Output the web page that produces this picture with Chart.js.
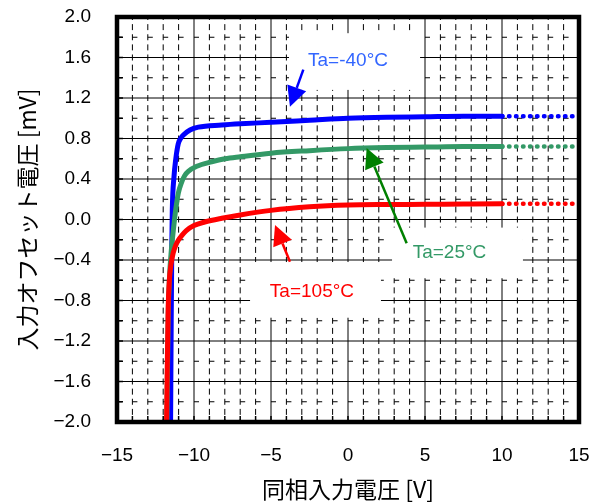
<!DOCTYPE html>
<html>
<head>
<meta charset="utf-8">
<script src="https://cdn.jsdelivr.net/npm/chart.js@4/dist/chart.umd.min.js"></script>
<style>
  html, body { margin: 0; padding: 0; background: #fff; }
</style>
</head>
<body>
<canvas id="chart" width="601" height="503"></canvas>
<script>
// 同相入力電圧 [V] と 入力オフセット電圧 [mV]
const vcmM40 = [-11.52, -11.48, -11.44, -11.41, -11.3, -11.19, -11.02, -10.85, -10.69, -10.26, -9.72, -8.2, -7.0, -5.0, -2.5, 0, 2.5, 5, 7.5, 10, 11, 12, 13, 14, 15];
const vosM40 = [-2.0, -1.0, -0.25, 0.09, 0.42, 0.59, 0.75, 0.805, 0.835, 0.884, 0.912, 0.933, 0.945, 0.96, 0.98, 1.0, 1.01, 1.015, 1.02, 1.02, 1.02, 1.02, 1.02, 1.02, 1.02];

const vcm25 = [-11.76, -11.68, -11.6, -11.47, -11.3, -11.19, -11.02, -10.8, -10.6, -10.37, -9.82, -8.85, -7.99, -7.0, -5.0, -2.5, 0, 2.5, 5, 7.5, 10, 11, 12, 13, 14, 15];
const vos25 = [-2.0, -1.0, -0.6, -0.3, -0.05, 0.094, 0.26, 0.37, 0.435, 0.475, 0.525, 0.57, 0.6, 0.62, 0.655, 0.68, 0.70, 0.71, 0.715, 0.72, 0.72, 0.72, 0.72, 0.72, 0.72, 0.72];

const vcm105 = [-11.78, -11.74, -11.68, -11.6, -11.5, -11.35, -11.2, -11.0, -10.8, -10.5, -10.0, -9.3, -8.2, -7.0, -5.0, -2.5, 0, 2.5, 5, 7.5, 10, 11, 12, 13, 14, 15];
const vos105 = [-2.0, -1.5, -0.9, -0.6, -0.45, -0.33, -0.26, -0.2, -0.16, -0.11, -0.06, -0.025, 0.012, 0.045, 0.09, 0.125, 0.143, 0.148, 0.15, 0.153, 0.155, 0.155, 0.155, 0.155, 0.155, 0.155];

const seriesNames = ['Ta=-40°C', 'Ta=25°C', 'Ta=105°C'];
const xTicks = [-15, -10, -5, 0, 5, 10, 15];
const yTicks = [-2.0, -1.6, -1.2, -0.8, -0.4, 0.0, 0.4, 0.8, 1.2, 1.6, 2.0];

// 注記（データ座標）
const notes = [
  { text: seriesNames[0], color: '#3366ff', arrow: '#0000ff', tx: 0, ty: 1.57,
    box: [-3.83, 1.84, 4.68, 1.28], from: [-2.9, 1.48], to: [-3.77, 1.114] },
  { text: seriesNames[1], color: '#339966', arrow: '#008000', tx: 6.59, ty: -0.33,
    box: [2.86, -0.08, 11.36, -0.58], from: [3.81, -0.235], to: [1.21, 0.706] },
  { text: seriesNames[2], color: '#ff0000', arrow: '#ff0000', tx: -2.34, ty: -0.71,
    box: [-6.36, -0.42, 2.14, -0.97], from: [-3.77, -0.417], to: [-4.74, -0.054] }
];

const zip = (xs, ys) => xs.map((x, i) => ({ x: x, y: ys[i] }));
const minus = v => (v < -1e-9 ? '\u2212' : '') + Math.abs(v);

const dotted = {
  borderDash: ctx => ctx.p0.parsed.x >= 10 ? [0.5, 6.5] : undefined,
  borderWidth: ctx => ctx.p0.parsed.x >= 10 ? 4.5 : undefined
};

// グリッド・白抜き
const gridPlugin = {
  id: 'gridPlugin',
  beforeDatasetsDraw(chart) {
    const { ctx, chartArea: a, scales: { x, y } } = chart;
    const unit = x.getPixelForValue(1) - x.getPixelForValue(0);
    const step = y.getPixelForValue(0) - y.getPixelForValue(0.2);
    ctx.save();
    ctx.strokeStyle = '#000';
    ctx.lineWidth = 1;
    for (let i = 1; i < 20; i++) {
      const py = y.getPixelForValue(-2 + i * 0.2);
      ctx.setLineDash(i % 2 ? [5, unit - 5] : []);
      ctx.beginPath();
      ctx.moveTo(a.left, py);
      ctx.lineTo(a.right, py);
      ctx.stroke();
    }
    for (let i = 1; i < 30; i++) {
      const px = x.getPixelForValue(-15 + i);
      ctx.setLineDash(i % 5 ? [6, step / 2 - 6] : []);
      ctx.lineDashOffset = 3;
      ctx.beginPath();
      ctx.moveTo(px, a.top);
      ctx.lineTo(px, a.bottom);
      ctx.stroke();
      ctx.lineDashOffset = 0;
    }
    ctx.setLineDash([]);
    ctx.fillStyle = '#fff';
    notes.forEach(n => {
      const x0 = x.getPixelForValue(n.box[0]), y0 = y.getPixelForValue(n.box[1]);
      const x1 = x.getPixelForValue(n.box[2]), y1 = y.getPixelForValue(n.box[3]);
      ctx.fillRect(x0, y0, x1 - x0, y1 - y0);
    });
    ctx.restore();
  },
  afterDatasetsDraw(chart) {
    const { ctx, chartArea: a, scales: { x, y } } = chart;
    ctx.save();
    // 内向き目盛
    ctx.strokeStyle = '#000';
    ctx.lineWidth = 1.5;
    for (let i = 1; i < 20; i++) {
      const py = y.getPixelForValue(-2 + i * 0.2);
      ctx.beginPath();
      ctx.moveTo(a.left, py);
      ctx.lineTo(a.left + 6, py);
      ctx.stroke();
    }
    for (let i = 1; i < 30; i++) {
      const px = x.getPixelForValue(-15 + i);
      ctx.beginPath();
      ctx.moveTo(px, a.bottom);
      ctx.lineTo(px, a.bottom - 6);
      ctx.stroke();
    }
    ctx.lineWidth = 4.5;
    ctx.strokeRect(a.left, a.top, a.right - a.left, a.bottom - a.top);

    // 矢印と文字
    notes.forEach(n => {
      const x0 = x.getPixelForValue(n.from[0]), y0 = y.getPixelForValue(n.from[1]);
      const x1 = x.getPixelForValue(n.to[0]), y1 = y.getPixelForValue(n.to[1]);
      const ang = Math.atan2(y1 - y0, x1 - x0);
      const c = Math.cos(ang), s = Math.sin(ang);
      const L = 20, W = 10;
      ctx.strokeStyle = n.arrow;
      ctx.fillStyle = n.arrow;
      ctx.lineWidth = 2.5;
      ctx.beginPath();
      ctx.moveTo(x0, y0);
      ctx.lineTo(x1 - L * c, y1 - L * s);
      ctx.stroke();
      ctx.beginPath();
      ctx.moveTo(x1, y1);
      ctx.lineTo(x1 - L * c + W * s, y1 - L * s - W * c);
      ctx.lineTo(x1 - L * c - W * s, y1 - L * s + W * c);
      ctx.closePath();
      ctx.fill();

      ctx.font = '19px "Liberation Sans", Arial, sans-serif';
      ctx.textAlign = 'center';
      ctx.textBaseline = 'middle';
      ctx.fillStyle = n.color;
      ctx.fillText(n.text, x.getPixelForValue(n.tx), y.getPixelForValue(n.ty));
    });
    ctx.restore();
  }
};

const tickFont = { family: '"Liberation Sans", Arial, sans-serif', size: 19 };
const titleFont = { family: '"Noto Sans CJK JP", sans-serif', size: 23 };

new Chart(document.getElementById('chart'), {
  type: 'scatter',
  data: {
    datasets: [
      { label: seriesNames[0], data: zip(vcmM40, vosM40), borderColor: '#0000ff', order: 3, showLine: true, segment: dotted },
      { label: seriesNames[1], data: zip(vcm25, vos25), borderColor: '#339966', order: 2, showLine: true, segment: dotted },
      { label: seriesNames[2], data: zip(vcm105, vos105), borderColor: '#ff0000', order: 1, showLine: true, segment: dotted }
    ]
  },
  options: {
    responsive: false,
    animation: false,
    layout: { padding: { top: 17, right: 22, left: 0, bottom: 0 } },
    plugins: { legend: { display: false }, tooltip: { enabled: false } },
    elements: {
      point: { radius: 0 },
      line: { borderWidth: 5, borderCapStyle: 'round', borderJoinStyle: 'round', cubicInterpolationMode: 'monotone' }
    },
    scales: {
      x: {
        type: 'linear', min: -15, max: 15,
        afterBuildTicks: s => { s.ticks = xTicks.map(v => ({ value: v })); },
        afterFit: s => { s.height = 81; s.paddingLeft = 0; s.paddingRight = 0; },
        ticks: { font: tickFont, color: '#000', padding: 22, maxRotation: 0, callback: v => minus(v) },
        grid: { display: false, drawTicks: false },
        border: { display: false },
        title: { display: true, text: '同相入力電圧 [V]', font: titleFont, color: '#000', padding: { top: 0, bottom: 0 } }
      },
      y: {
        type: 'linear', min: -2, max: 2,
        afterBuildTicks: s => { s.ticks = yTicks.map(v => ({ value: v })); },
        afterFit: s => { s.width = 117; s.paddingTop = 0; s.paddingBottom = 0; },
        ticks: { font: tickFont, color: '#000', padding: 26, callback: v => minus(Number(v.toFixed(1))).replace(/^(\u2212?\d+)$/, '$1.0') },
        grid: { display: false, drawTicks: false },
        border: { display: false },
        title: { display: true, text: '入力オフセット電圧 [mV]', font: titleFont, color: '#000', padding: { top: 13, bottom: 0 } }
      }
    }
  },
  plugins: [gridPlugin]
});
</script>
</body>
</html>
